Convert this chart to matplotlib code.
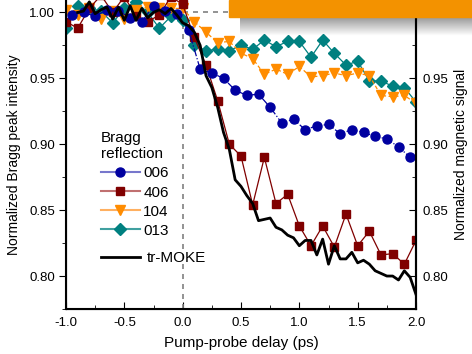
import numpy as np
import matplotlib
matplotlib.use("Agg")
import matplotlib.pyplot as plt
from matplotlib.lines import Line2D
from matplotlib.patches import Rectangle

plt.rcParams['font.family'] = ['Liberation Sans', 'DejaVu Sans']

# Bragg reflections, 0.1 ps grid
t_006 = np.round(np.arange(-0.95, 2.0, 0.1), 2)
i_006 = [0.998, 1.000, 0.997, 1.002, 1.001, 0.996, 0.993, 1.005, 1.001, 0.999,
         0.987, 0.957, 0.954, 0.950, 0.941, 0.937, 0.938, 0.928, 0.916, 0.919,
         0.911, 0.914, 0.915, 0.908, 0.911, 0.909, 0.906, 0.904, 0.898, 0.890]

t_406 = np.round(np.arange(-1.0, 2.05, 0.1), 2)
i_406 = [0.993, 0.988, 1.003, 1.013, 1.000, 1.012, 0.997, 0.993, 0.998, 1.012,
         1.006, 0.981, 0.960, 0.933, 0.900, 0.891, 0.854, 0.890, 0.855, 0.862,
         0.838, 0.823, 0.838, 0.822, 0.847, 0.823, 0.834, 0.816, 0.817, 0.809,
         0.827]

t_104 = np.round(np.arange(-1.0, 2.05, 0.1), 2)
i_104 = [1.002, 0.998, 1.003, 0.995, 1.001, 0.995, 1.002, 1.004, 1.003, 1.003,
         1.003, 0.993, 0.985, 0.977, 0.978, 0.969, 0.965, 0.953, 0.957, 0.953,
         0.959, 0.951, 0.952, 0.954, 0.952, 0.954, 0.952, 0.937, 0.936, 0.937,
         0.931]

t_013 = np.round(np.arange(-1.0, 2.05, 0.1), 2)
i_013 = [0.988, 1.005, 1.003, 1.001, 0.992, 1.003, 1.008, 1.000, 0.988, 0.997,
         0.994, 0.975, 0.971, 0.972, 0.971, 0.975, 0.972, 0.979, 0.974, 0.978,
         0.978, 0.966, 0.979, 0.969, 0.960, 0.963, 0.948, 0.948, 0.944, 0.943,
         0.932]

# tr-MOKE, 0.05 ps grid
t_moke = np.round(np.arange(-0.9, 2.025, 0.05), 2)
m_moke = [1.000, 1.001, 1.008, 0.999, 1.002, 1.004, 0.995, 1.004, 0.994, 1.005,
          0.994, 1.003, 0.996, 1.000, 1.002, 0.999, 1.003, 0.998, 0.992, 0.990,
          0.985, 0.975, 0.952, 0.943, 0.928, 0.909, 0.896, 0.873, 0.868, 0.861,
          0.855, 0.842, 0.843, 0.844, 0.837, 0.835, 0.831, 0.829, 0.823, 0.827,
          0.827, 0.816, 0.828, 0.809, 0.823, 0.813, 0.813, 0.818, 0.810, 0.812,
          0.809, 0.804, 0.802, 0.800, 0.800, 0.797, 0.804, 0.799, 0.786]

fig = plt.figure(figsize=(4.72, 3.54), dpi=100)
ax = fig.add_axes([66 / 472, 45 / 354, 350 / 472, 309 / 354])

ax.axvline(0, color='gray', ls=(0, (3, 3)), lw=1.2, ymax=(1.0 - 0.78) / (1.0094 - 0.78))
ax.plot([0, 2], [1, 1], color='gray', ls=(0, (3, 3)), lw=1.2)

ax.plot(t_013, i_013, '-', color='#008080', lw=0.9, marker='D', ms=6)
ax.plot(t_104, i_104, '--', color='#FF8C00', lw=0.9, marker='v', ms=7, dashes=(3, 2))
ax.plot(t_406, i_406, '-', color='#800000', lw=0.9, marker='s', ms=6)
ax.plot(t_006, i_006, '-.', color='#0000A0', lw=0.9, marker='o', ms=6.5)
ax.plot(t_moke, m_moke, '-', color='black', lw=2)

ax.set_xlim(-1.0, 2.0)
ax.set_ylim(0.78, 1.0094)
ax.set_xticks(np.arange(-1.0, 2.01, 0.5))
ax.set_xticks(np.arange(-1.0, 2.01, 0.25), minor=True)
ax.set_yticks(np.arange(0.80, 1.001, 0.05))
ax.set_yticks(np.arange(0.775, 1.01, 0.025), minor=True)
ax.xaxis.set_major_formatter(matplotlib.ticker.FormatStrFormatter('%.1f'))
ax.yaxis.set_major_formatter(matplotlib.ticker.FormatStrFormatter('%.2f'))
ax.tick_params(axis='x', which='both', direction='in', labelsize=9.5, pad=6)
ax.tick_params(axis='x', which='major', length=5)
ax.tick_params(axis='x', which='minor', length=3)
ax.tick_params(axis='y', which='both', direction='out', labelsize=9.5, pad=3)
ax.tick_params(axis='y', which='major', length=5)
ax.tick_params(axis='y', which='minor', length=3)
ax.spines['top'].set_visible(False)
for s in ['left', 'bottom', 'right']:
    ax.spines[s].set_linewidth(1.5)

ax.set_xlabel('Pump-probe delay (ps)', fontsize=11, labelpad=5)
ax.set_ylabel('Normalized Bragg peak intensity', fontsize=10, labelpad=6)

ax2 = ax.twinx()
ax2.set_ylim(ax.get_ylim())
ax2.set_yticks(np.arange(0.80, 1.001, 0.05))
ax2.set_yticks(np.arange(0.775, 1.01, 0.025), minor=True)
ax2.yaxis.set_major_formatter(matplotlib.ticker.FormatStrFormatter('%.2f'))
ax2.tick_params(axis='y', which='both', direction='in', labelsize=9.5, pad=5)
ax2.tick_params(axis='y', which='major', length=5)
ax2.tick_params(axis='y', which='minor', length=3)
ax2.spines['top'].set_visible(False)
ax2.spines['right'].set_linewidth(1.5)
ax2.set_ylabel('Normalized magnetic signal', fontsize=10, labelpad=4)

handles = [
    Line2D([], [], color='#7777CC', marker='o', mfc='#0000A0', mec='#0000A0', ms=6.5),
    Line2D([], [], color='#C07070', marker='s', mfc='#800000', mec='#800000', ms=6),
    Line2D([], [], color='#FFB060', marker='v', mfc='#FF8C00', mec='#FF8C00', ms=7),
    Line2D([], [], color='#40A0A0', marker='D', mfc='#008080', mec='#008080', ms=6),
]
leg = ax.legend(handles, ['006', '406', '104', '013'], title='Bragg\nreflection',
                loc='upper left', bbox_to_anchor=(0.077, 0.6), frameon=False,
                fontsize=11, title_fontsize=11, handlelength=2.6, handletextpad=0.2,
                labelspacing=0.33, borderpad=0, alignment='left')
ax.add_artist(leg)
ax.legend([Line2D([], [], color='black', lw=2)], ['tr-MOKE'], loc='upper left',
          bbox_to_anchor=(0.077, 0.211), frameon=False, fontsize=11,
          handlelength=2.6, handletextpad=0.4, borderpad=0)

# orange banner with a soft shadow overlapping the top right corner
grad = np.linspace(0.45, 0, 40)[:, None] * np.ones((1, 10))
sh = fig.add_axes([240 / 472, 1 - 36 / 354, 232 / 472, 20 / 354])
sh.imshow(np.dstack([np.zeros_like(grad)] * 3 + [grad]), aspect='auto',
          extent=(0, 1, 0, 1))
sh.axis('off')
fig.patches.append(Rectangle((229 / 472, 1 - 16.5 / 354), 1, 16.5 / 354,
                             transform=fig.transFigure, color='#F39200', zorder=10))

fig.savefig('out.png', dpi=100)
